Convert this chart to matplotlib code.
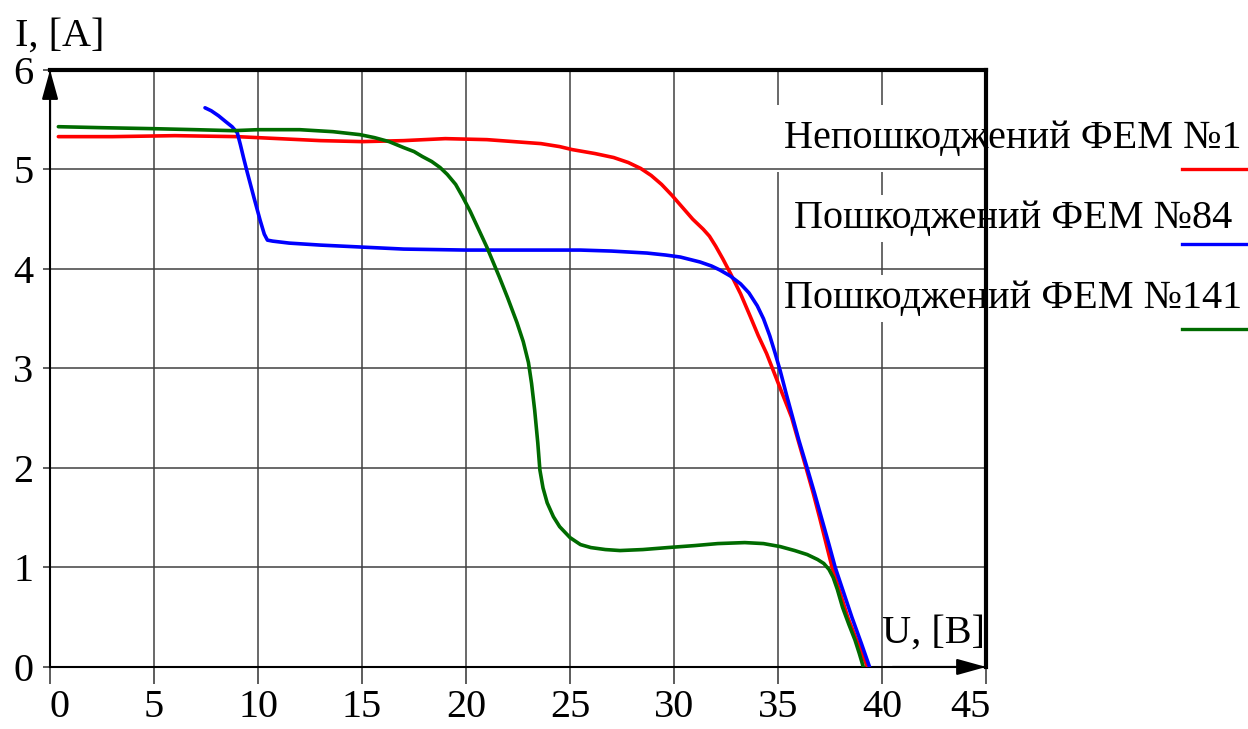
import matplotlib
matplotlib.use('Agg')
import matplotlib.pyplot as plt
import matplotlib.transforms as mtransforms

plt.rcParams['font.family'] = ['Liberation Serif', 'DejaVu Serif']

########################## I-V curves of the PV modules ##########################

# undamaged module No.1
u_1 = [0.4, 3, 6, 9, 11, 13, 15, 17, 19, 21, 22.3, 23.6, 24.5, 25.1, 26.2, 27.1, 27.8,
       28.4, 28.9, 29.4, 29.9, 30.4, 30.9, 31.4, 31.7, 32.0, 32.35, 32.7, 33.2, 33.65,
       34.05, 34.45, 34.75, 35.05, 35.35, 35.65, 35.95, 36.35, 36.7, 37.0, 37.3, 37.6,
       37.95, 38.35, 38.8, 39.3]
i_1 = [5.33, 5.33, 5.34, 5.33, 5.31, 5.29, 5.28, 5.29, 5.31, 5.30, 5.28, 5.26, 5.23, 5.20,
       5.16, 5.12, 5.07, 5.01, 4.94, 4.85, 4.74, 4.62, 4.50, 4.40, 4.33, 4.23, 4.10, 3.96,
       3.75, 3.53, 3.33, 3.15, 2.99, 2.83, 2.67, 2.51, 2.29, 2.0, 1.74, 1.50, 1.25, 1.0,
       0.77, 0.50, 0.26, 0.0]

# damaged module No.84
u_84 = [7.45, 7.75, 8.1, 8.45, 8.75, 9.0, 9.15, 9.3, 9.47, 9.8, 10.1, 10.3, 10.45, 10.7,
        11.5, 13, 15, 17, 20, 23, 25.5, 27, 28.7, 29.6, 30.3, 31.25, 31.8, 32.2, 32.7,
        33.2, 33.6, 34.0, 34.3, 34.6, 34.85, 35.1, 35.4, 35.7, 36.0, 36.4, 36.75, 37.1,
        37.45, 37.75, 38.15, 38.55, 39.0, 39.4]
i_84 = [5.62, 5.59, 5.54, 5.48, 5.43, 5.37, 5.25, 5.12, 4.98, 4.72, 4.49, 4.35, 4.29, 4.28,
        4.26, 4.24, 4.22, 4.20, 4.19, 4.19, 4.19, 4.18, 4.16, 4.14, 4.12, 4.07, 4.03, 3.99,
        3.93, 3.85, 3.76, 3.63, 3.50, 3.33, 3.16, 2.98, 2.74, 2.51, 2.28, 2.0, 1.75, 1.49,
        1.23, 1.0, 0.75, 0.50, 0.24, 0.0]

# damaged module No.141
u_141 = [0.4, 2.5, 5, 7, 8.8, 10, 12, 13.6, 14.9, 15.6, 16.3, 17.0, 17.5, 17.9, 18.35,
         18.75, 19.1, 19.5, 19.85, 20.2, 20.6, 21.0, 21.3, 21.6, 22.0, 22.45, 22.75, 23.0,
         23.15, 23.3, 23.45, 23.55, 23.7, 23.9, 24.2, 24.5, 25.0, 25.5, 26.0, 26.7, 27.4,
         28.5, 29.7, 31.0, 32.1, 33.4, 34.3, 35.1, 35.8, 36.4, 36.9, 37.2, 37.45, 37.65,
         37.85, 38.1, 38.4, 38.7, 38.9, 39.1]
i_141 = [5.43, 5.42, 5.41, 5.40, 5.39, 5.40, 5.40, 5.38, 5.35, 5.32, 5.28, 5.22, 5.18, 5.13,
         5.08, 5.02, 4.95, 4.85, 4.72, 4.58, 4.40, 4.22, 4.07, 3.92, 3.71, 3.46, 3.27, 3.06,
         2.85, 2.58, 2.25, 1.98, 1.80, 1.65, 1.51, 1.41, 1.30, 1.23, 1.20, 1.18, 1.17, 1.18,
         1.20, 1.22, 1.24, 1.25, 1.24, 1.21, 1.17, 1.13, 1.08, 1.04, 0.98, 0.90, 0.78, 0.60,
         0.43, 0.27, 0.14, 0.0]

labels = ['Непошкоджений ФЕМ №1', 'Пошкоджений ФЕМ №84', 'Пошкоджений ФЕМ №141']
colors = ['#ff0000', '#0000ff', '#006b00']

x_ticks = [0, 5, 10, 15, 20, 25, 30, 35, 40, 45]
y_ticks = [0, 1, 2, 3, 4, 5, 6]

fsize = 29
tick_font = {'family': 'Liberation Serif', 'size': fsize}

###############################################################################

fig = plt.figure(figsize=(12.48, 7.29), dpi=100)
ax = fig.add_axes([0.0401, 0.0851, 0.750, 0.8189])

ax.set_xlim(0, 45)
ax.set_ylim(0, 6)

# grid: vertical lines under the legend boxes, horizontal ones above
for u in x_ticks[1:-1]:
    ax.axvline(u, color='#404040', linewidth=1.1, zorder=1)
for i in y_ticks[1:-1]:
    ax.axhline(i, color='#404040', linewidth=1.1, zorder=2)

line_kw = dict(linewidth=2.6, zorder=4, solid_joinstyle='round', solid_capstyle='round')
ax.plot(u_1, i_1, color=colors[0], **line_kw)
ax.plot(u_84, i_84, color=colors[1], **line_kw)
ax.plot(u_141, i_141, color=colors[2], **line_kw)

ax.spines['top'].set_linewidth(3)
ax.spines['right'].set_linewidth(3)
ax.spines['left'].set_linewidth(1.5)
ax.spines['bottom'].set_linewidth(1.5)
for s in ax.spines.values():
    s.set_zorder(3)

ax.set_xticks(x_ticks)
ax.set_yticks(y_ticks)
ax.set_xticklabels([str(v) for v in x_ticks], fontdict=tick_font)
ax.set_yticklabels([str(v) for v in y_ticks], fontdict=tick_font)
ax.tick_params(axis='x', direction='out', length=12, width=1.1, pad=4, color='#303030')
ax.tick_params(axis='y', direction='out', length=5, width=1.1, pad=7, color='#303030')

# nudge the end labels of the U axis
xt = ax.xaxis.get_major_ticks()
xt[0].label1.set_transform(xt[0].label1.get_transform() +
                           mtransforms.ScaledTranslation(0.09, 0, fig.dpi_scale_trans))
xt[-1].label1.set_transform(xt[-1].label1.get_transform() +
                            mtransforms.ScaledTranslation(-0.16, 0, fig.dpi_scale_trans))

# arrow heads on both axes
arrow_kw = dict(arrowstyle='-|>,head_length=1.8,head_width=0.5', color='k',
                lw=1.5, shrinkA=0, shrinkB=0, mutation_scale=10)
ax.annotate('', xy=(0, 1), xytext=(0, 0.9), xycoords='axes fraction',
            arrowprops=arrow_kw, annotation_clip=False, zorder=5)
ax.annotate('', xy=(1, 0), xytext=(0.9, 0), xycoords='axes fraction',
            arrowprops=arrow_kw, annotation_clip=False, zorder=5)

fig.text(15 / 1248, 1 - 46 / 729, 'I, [A]', fontsize=fsize, va='baseline', ha='left')
fig.text(882 / 1248, 1 - 643 / 729, 'U, [B]', fontsize=fsize, va='baseline', ha='left')

# legend: centred captions with a short line below each
legend_y = [148, 228, 308]
key_y = [169, 244, 329]
pads = [0.38, 0.12, 0.12]
for lab, col, ty, ky, p in zip(labels, colors, legend_y, key_y, pads):
    ax.text(1013 / 1248, 1 - ty / 729, lab, transform=fig.transFigure, fontsize=fsize,
            ha='center', va='baseline', zorder=1.5, clip_on=False,
            bbox=dict(facecolor='white', edgecolor='none', boxstyle='square,pad=%s' % p))
    ax.plot([1182 / 1248, 1.0], [1 - ky / 729, 1 - ky / 729], color=col, linewidth=2.4,
            transform=fig.transFigure, clip_on=False, zorder=4)

plt.savefig('out.png', dpi=100)
